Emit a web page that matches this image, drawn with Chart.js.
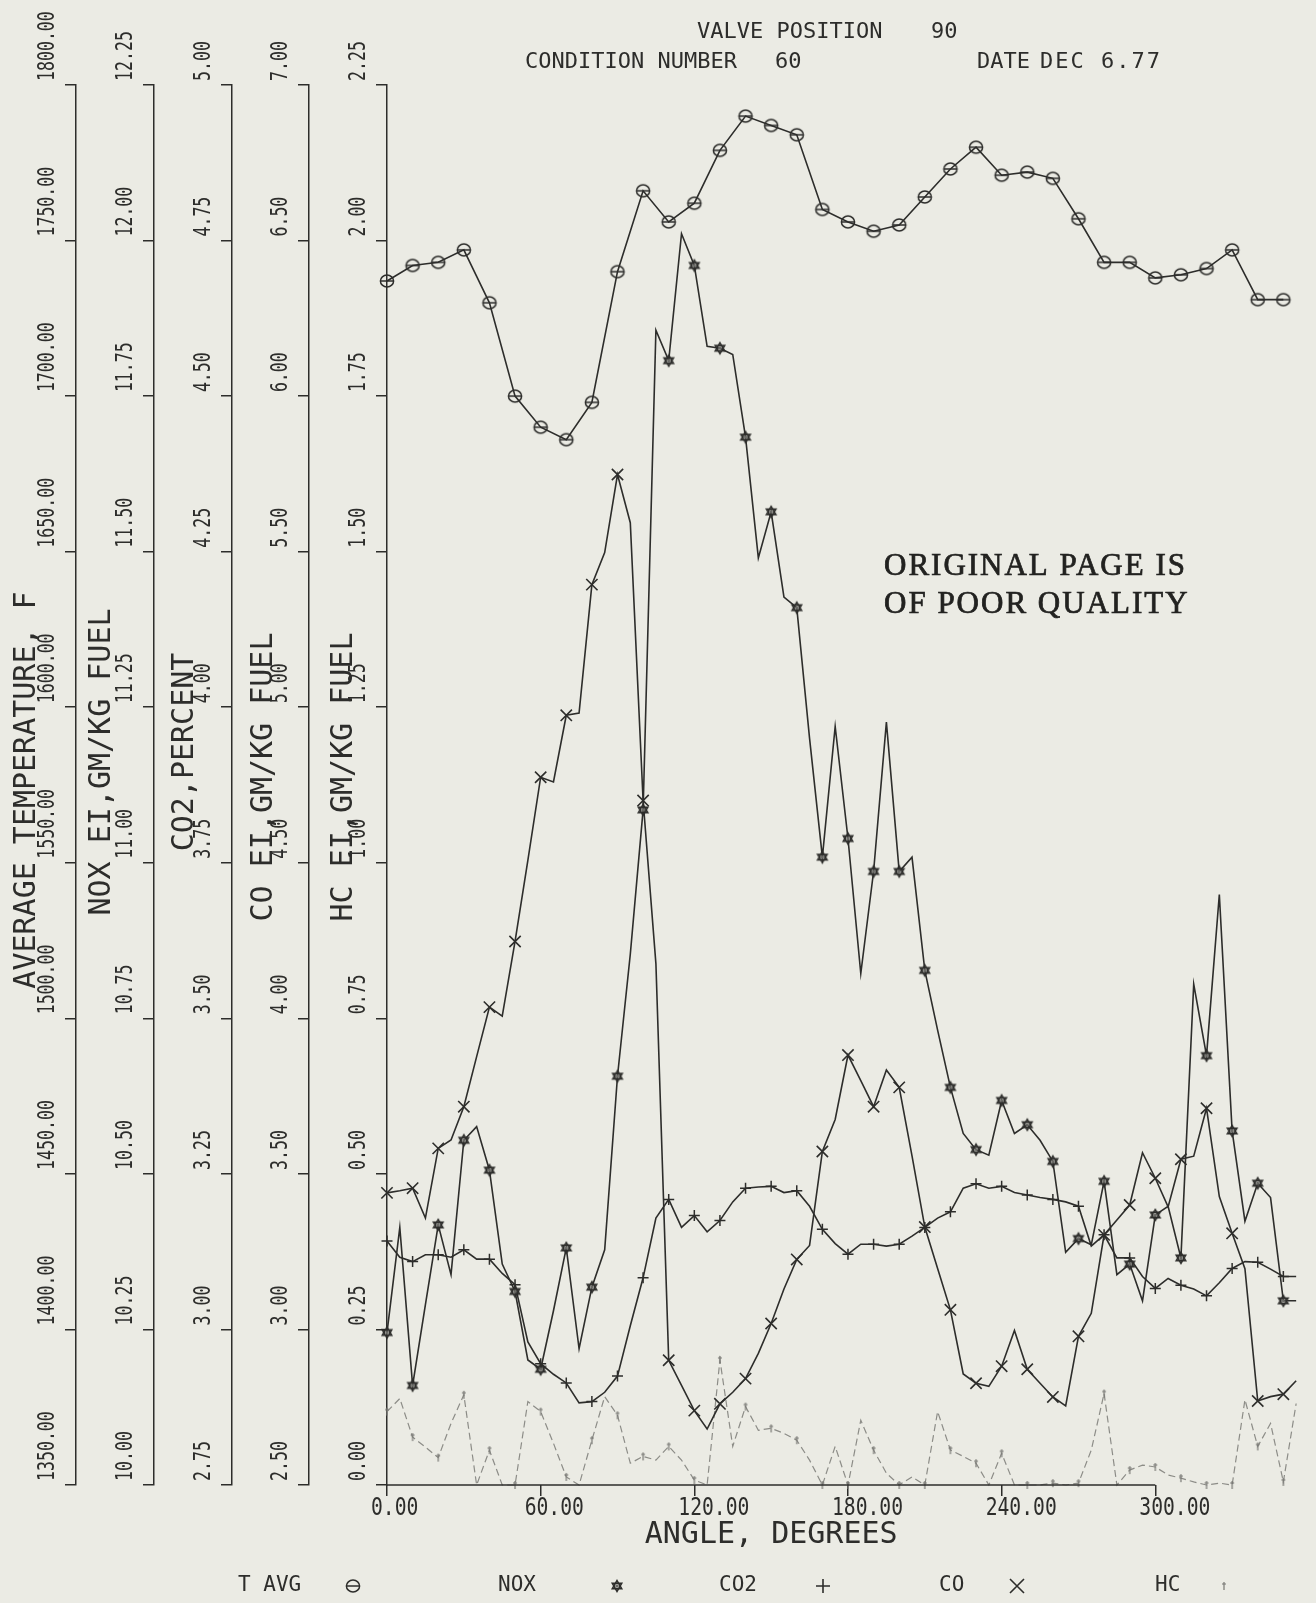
<!DOCTYPE html>
<html>
<head>
<meta charset="utf-8">
<script src="https://cdn.jsdelivr.net/npm/chart.js@4.4.0/dist/chart.umd.min.js"></script>
<style>
  html, body { margin: 0; padding: 0; background: #ebebe4; }
  #wrap { position: relative; width: 1316px; height: 1603px; background: #ebebe4; }
</style>
</head>
<body>
<div id="wrap"><canvas id="emission-chart"></canvas></div>
<script>
// angle stations (degrees)
var anglesFine = [0, 5, 10, 15, 20, 25, 30, 35, 40, 45, 50, 55, 60, 65, 70, 75, 80, 85,
  90, 95, 100, 105, 110, 115, 120, 125, 130, 135, 140, 145, 150, 155, 160, 165, 170, 175,
  180, 185, 190, 195, 200, 205, 210, 215, 220, 225, 230, 235, 240, 245, 250, 255, 260, 265,
  270, 275, 280, 285, 290, 295, 300, 305, 310, 315, 320, 325, 330, 335, 340, 345, 350, 355];
var anglesCoarse = [0, 10, 20, 30, 40, 50, 60, 70, 80, 90, 100, 110, 120, 130, 140, 150, 160, 170,
  180, 190, 200, 210, 220, 230, 240, 250, 260, 270, 280, 290, 300, 310, 320, 330, 340, 350];
var xTickValues = [0, 60, 120, 180, 240, 300];

// average temperature, F (every 10 deg)
var tAvg = [1737, 1742, 1743, 1747, 1730, 1700, 1690, 1686, 1698, 1740, 1766, 1756,
  1762, 1779, 1790, 1787, 1784, 1760, 1756, 1753, 1755, 1764, 1773, 1780,
  1771, 1772, 1770, 1757, 1743, 1743, 1738, 1739, 1741, 1747, 1731, 1731];

// NOX EI, gm/kg fuel (every 5 deg)
var nox = [10.245, 10.414, 10.16, 10.29, 10.418, 10.338, 10.554, 10.576, 10.506, 10.355, 10.311, 10.201,
  10.186, 10.28, 10.381, 10.219, 10.318, 10.378, 10.657, 10.853, 11.085, 11.856, 11.807, 12.011,
  11.96, 11.83, 11.827, 11.817, 11.684, 11.49, 11.564, 11.427, 11.41, 11.2, 11.009, 11.219,
  11.039, 10.822, 10.986, 11.226, 10.986, 11.009, 10.827, 10.731, 10.639, 10.565, 10.539, 10.53,
  10.618, 10.565, 10.579, 10.554, 10.52, 10.374, 10.396, 10.386, 10.488, 10.338, 10.355, 10.296,
  10.434, 10.448, 10.365, 10.805, 10.69, 10.949, 10.569, 10.424, 10.485, 10.462, 10.296, 10.296];

// CO2, percent
var co2 = [3.142, 3.116, 3.109, 3.12, 3.12, 3.116, 3.128, 3.113, 3.113, 3.09, 3.072, 2.98,
  2.945, 2.928, 2.914, 2.882, 2.884, 2.899, 2.925, 3.006, 3.083, 3.179, 3.209, 3.164,
  3.183, 3.157, 3.175, 3.205, 3.227, 3.229, 3.23, 3.22, 3.223, 3.198, 3.161, 3.138,
  3.121, 3.137, 3.137, 3.134, 3.137, 3.15, 3.164, 3.179, 3.189, 3.227, 3.234, 3.227,
  3.23, 3.22, 3.216, 3.212, 3.209, 3.205, 3.198, 3.134, 3.152, 3.115, 3.115, 3.085,
  3.066, 3.082, 3.071, 3.065, 3.054, 3.075, 3.098, 3.109, 3.108, 3.097, 3.085, 3.085];

// CO EI, gm/kg fuel
var co = [3.439, 3.446, 3.454, 3.358, 3.582, 3.609, 3.716, 3.877, 4.036, 4.007, 4.247, 4.508,
  4.775, 4.76, 4.974, 4.981, 5.394, 5.497, 5.748, 5.593, 4.70, 4.176, 2.901, 2.82,
  2.739, 2.68, 2.761, 2.798, 2.842, 2.923, 3.019, 3.13, 3.225, 3.27, 3.572, 3.675,
  3.882, 3.80, 3.716, 3.834, 3.778, 3.558, 3.329, 3.196, 3.063, 2.857, 2.827, 2.817,
  2.882, 2.997, 2.872, 2.827, 2.783, 2.754, 2.978, 3.052, 3.304, 3.352, 3.40, 3.568,
  3.486, 3.394, 3.547, 3.557, 3.711, 3.427, 3.309, 3.195, 2.77, 2.784, 2.792, 2.835];

// HC EI, gm/kg fuel
var hc = [0.118, 0.139, 0.077, 0.061, 0.044, 0.099, 0.145, 0, 0.056, 0, 0, 0.134,
  0.118, 0.067, 0.013, 0, 0.072, 0.142, 0.112, 0.035, 0.046, 0.04, 0.062, 0.04,
  0.008, 0, 0.201, 0.062, 0.126, 0.088, 0.091, 0.083, 0.072, 0.04, 0, 0.062,
  0, 0.104, 0.056, 0.019, 0, 0.013, 0, 0.118, 0.056, 0.046, 0.035, 0,
  0.051, 0, 0, 0, 0.003, 0, 0.003, 0.056, 0.147, 0, 0.024, 0.032,
  0.029, 0.016, 0.011, 0.005, 0, 0.003, 0, 0.137, 0.062, 0.099, 0.005, 0.131];

var seriesNames = ['T AVG', 'NOX', 'CO2', 'CO', 'HC'];
var axisTitles = ['AVERAGE TEMPERATURE, F', 'NOX EI,GM/KG FUEL', 'CO2,PERCENT', 'CO EI,GM/KG FUEL', 'HC EI,GM/KG FUEL'];
var axisIds = ['yT', 'yN', 'yC2', 'yCO', 'yHC'];

var INK = '#2d2d2b';
var MONO = "'DejaVu Sans Mono', 'Liberation Mono', monospace";

function makeMarker(size, draw) {
  var c = document.createElement('canvas');
  c.width = size;
  c.height = size;
  var g = c.getContext('2d');
  g.strokeStyle = INK;
  g.fillStyle = INK;
  draw(g, size / 2);
  return c;
}

// circle with a bar through it
var circleMark = makeMarker(18, function (g, m) {
  g.lineWidth = 1.5;
  g.beginPath();
  g.ellipse(m, m, 6.6, 5.9, 0, 0, Math.PI * 2);
  g.stroke();
  g.beginPath();
  g.moveTo(m - 6.6, m);
  g.lineTo(m + 6.6, m);
  g.stroke();
});

// six pointed star
var starMark = makeMarker(16, function (g, m) {
  g.lineWidth = 1.6;
  var r = 5.4;
  [-90, 90].forEach(function (start) {
    g.beginPath();
    for (var k = 0; k < 3; k++) {
      var a = (start + k * 120) * Math.PI / 180;
      if (k === 0) g.moveTo(m + r * Math.cos(a), m + r * Math.sin(a));
      else g.lineTo(m + r * Math.cos(a), m + r * Math.sin(a));
    }
    g.closePath();
    g.stroke();
  });
  g.fillStyle = '#6a6a66';
  g.beginPath();
  g.arc(m, m, 1.8, 0, Math.PI * 2);
  g.fill();
});

// little dagger used for HC
var daggerMark = makeMarker(10, function (g, m) {
  g.strokeStyle = '#777773';
  g.lineWidth = 1.2;
  g.beginPath();
  g.moveTo(m, m - 4);
  g.lineTo(m, m + 4);
  g.moveTo(m - 2, m - 2);
  g.lineTo(m + 2, m - 2);
  g.stroke();
});

function pairs(xs, ys) {
  return xs.map(function (x, i) { return { x: x, y: ys[i] }; });
}

function everyOther(r) {
  return function (ctx) { return ctx.dataIndex % 2 === 0 ? r : 0; };
}

function yAxis(min, max, step, weight, width) {
  return {
    type: 'linear',
    position: 'left',
    min: min,
    max: max,
    weight: weight,
    ticks: { stepSize: step, display: false },
    grid: { drawOnChartArea: false, drawTicks: true, tickLength: 11, color: INK, lineWidth: 1.5 },
    border: { display: true, color: INK, width: 1.5 },
    title: { display: false },
    afterFit: function (scale) { scale.width = width; }
  };
}

// all the text that the plotter put round the axes
var paperText = {
  id: 'paperText',
  afterDraw: function (chart) {
    var ctx = chart.ctx;
    var xs = chart.scales.x;
    var area = chart.chartArea;
    ctx.save();
    ctx.fillStyle = INK;
    ctx.strokeStyle = INK;

    // x axis line only runs 0 - 300
    var x0 = xs.getPixelForValue(xTickValues[0]);
    var x300 = xs.getPixelForValue(xTickValues[xTickValues.length - 1]);
    ctx.lineWidth = 1.5;
    ctx.beginPath();
    ctx.moveTo(x0, area.bottom);
    ctx.lineTo(x300, area.bottom);
    ctx.stroke();

    // rotated y tick labels and axis titles
    var titleDx = [27, 26, 31, 32, 35];
    var titleDy = [5, -23, -33, -8, -8];
    axisIds.forEach(function (id, i) {
      var s = chart.scales[id];
      s.ticks.forEach(function (t) {
        var py = s.getPixelForValue(t.value);
        ctx.save();
        ctx.translate(s.right - 28, py - 4);
        ctx.rotate(-Math.PI / 2);
        ctx.scale(0.72, 1);
        ctx.font = '23px ' + MONO;
        ctx.textAlign = 'left';
        ctx.textBaseline = 'middle';
        ctx.fillText(t.value.toFixed(2), 0, 0);
        ctx.restore();
      });
      ctx.save();
      ctx.translate(s.left + titleDx[i], (s.top + s.bottom) / 2 + titleDy[i]);
      ctx.rotate(-Math.PI / 2);
      ctx.font = '30px ' + MONO;
      ctx.textAlign = 'center';
      ctx.textBaseline = 'middle';
      ctx.fillText(axisTitles[i], 0, 0);
      ctx.restore();
    });

    // x tick labels
    xs.ticks.forEach(function (t) {
      var px = xs.getPixelForValue(t.value);
      ctx.save();
      ctx.translate(px - 16, area.bottom + 24);
      ctx.scale(0.82, 1);
      ctx.font = '24px ' + MONO;
      ctx.textAlign = 'left';
      ctx.textBaseline = 'middle';
      ctx.fillText(t.value.toFixed(2), 0, 0);
      ctx.restore();
    });

    ctx.textBaseline = 'middle';
    ctx.textAlign = 'center';
    ctx.font = '30px ' + MONO;
    ctx.fillText('ANGLE, DEGREES', (x0 + x300) / 2, area.bottom + 50);

    // header
    ctx.textAlign = 'left';
    ctx.font = '22px ' + MONO;
    ctx.fillText('VALVE POSITION', 697, 32);
    ctx.fillText('90', 931, 32);
    ctx.fillText('CONDITION NUMBER', 525, 62);
    ctx.fillText('60', 775, 62);
    ctx.fillText('DATE', 977, 62);
    ctx.letterSpacing = '2px';
    ctx.fillText('DEC 6.77', 1040, 62);
    ctx.letterSpacing = '0px';

    // legend row
    var legendY = 1586;
    var textX = [238, 498, 719, 939, 1155];
    var markX = [353, 617, 823, 1017, 1224];
    ctx.font = '21px ' + MONO;
    seriesNames.forEach(function (name, i) {
      ctx.fillText(name, textX[i], legendY);
    });
    ctx.drawImage(circleMark, markX[0] - 9, legendY - 9);
    ctx.drawImage(starMark, markX[1] - 8, legendY - 8);
    ctx.lineWidth = 1.6;
    ctx.beginPath();
    ctx.moveTo(markX[2] - 7, legendY); ctx.lineTo(markX[2] + 7, legendY);
    ctx.moveTo(markX[2], legendY - 7); ctx.lineTo(markX[2], legendY + 7);
    ctx.moveTo(markX[3] - 7, legendY - 7); ctx.lineTo(markX[3] + 7, legendY + 7);
    ctx.moveTo(markX[3] + 7, legendY - 7); ctx.lineTo(markX[3] - 7, legendY + 7);
    ctx.stroke();
    ctx.drawImage(daggerMark, markX[4] - 5, legendY - 5);

    // stamp
    ctx.font = "31px 'Liberation Serif', 'DejaVu Serif', serif";
    ctx.letterSpacing = '2px';
    ctx.fillStyle = '#222220';
    ctx.strokeStyle = '#222220';
    ctx.lineWidth = 0.7;
    ctx.fillText('ORIGINAL PAGE IS', 884, 567);
    ctx.strokeText('ORIGINAL PAGE IS', 884, 567);
    ctx.fillText('OF POOR QUALITY', 884, 605);
    ctx.strokeText('OF POOR QUALITY', 884, 605);
    ctx.restore();
  }
};

function createEmissionChart() {
  var ctx = document.getElementById('emission-chart').getContext('2d');

  new Chart(ctx, {
    type: 'line',
    data: {
      datasets: [{
        label: seriesNames[0],
        data: pairs(anglesCoarse, tAvg),
        yAxisID: 'yT',
        borderColor: INK,
        borderWidth: 1.6,
        pointStyle: circleMark,
        pointRadius: 6,
        clip: false
      }, {
        label: seriesNames[1],
        data: pairs(anglesFine, nox),
        yAxisID: 'yN',
        borderColor: INK,
        borderWidth: 1.6,
        pointStyle: starMark,
        pointRadius: everyOther(5),
        clip: false
      }, {
        label: seriesNames[2],
        data: pairs(anglesFine, co2),
        yAxisID: 'yC2',
        borderColor: INK,
        borderWidth: 1.6,
        pointStyle: 'cross',
        pointRadius: everyOther(5.5),
        pointBorderColor: INK,
        pointBorderWidth: 1.5,
        clip: false
      }, {
        label: seriesNames[3],
        data: pairs(anglesFine, co),
        yAxisID: 'yCO',
        borderColor: INK,
        borderWidth: 1.6,
        pointStyle: 'crossRot',
        pointRadius: everyOther(8),
        pointBorderColor: INK,
        pointBorderWidth: 1.6,
        clip: false
      }, {
        label: seriesNames[4],
        data: pairs(anglesFine, hc),
        yAxisID: 'yHC',
        borderColor: '#8c8c87',
        borderWidth: 1.2,
        borderDash: [7, 4],
        pointStyle: daggerMark,
        pointRadius: everyOther(3),
        clip: false
      }]
    },
    options: {
      responsive: true,
      maintainAspectRatio: false,
      animation: false,
      layout: { padding: { top: 85, left: 0, right: 0, bottom: 0 } },
      elements: { line: { tension: 0, fill: false } },
      plugins: {
        legend: { display: false },
        tooltip: { enabled: false },
        title: { display: false }
      },
      scales: {
        x: {
          type: 'linear',
          position: 'bottom',
          min: 0,
          max: 359,
          ticks: { display: false },
          afterBuildTicks: function (scale) {
            scale.ticks = xTickValues.map(function (v) { return { value: v }; });
          },
          grid: { drawOnChartArea: false, drawTicks: true, tickLength: 11, color: INK, lineWidth: 1.5 },
          border: { display: false },
          afterFit: function (scale) { scale.height = 118; }
        },
        yT: yAxis(1350, 1800, 50, 4, 76),
        yN: yAxis(10, 12.25, 0.25, 3, 78),
        yC2: yAxis(2.75, 5, 0.25, 2, 78),
        yCO: yAxis(2.5, 7, 0.5, 1, 77),
        yHC: yAxis(0, 2.25, 0.25, 0, 78)
      }
    },
    plugins: [paperText]
  });
}

document.addEventListener('DOMContentLoaded', function () {
  createEmissionChart();
});
</script>
</body>
</html>
